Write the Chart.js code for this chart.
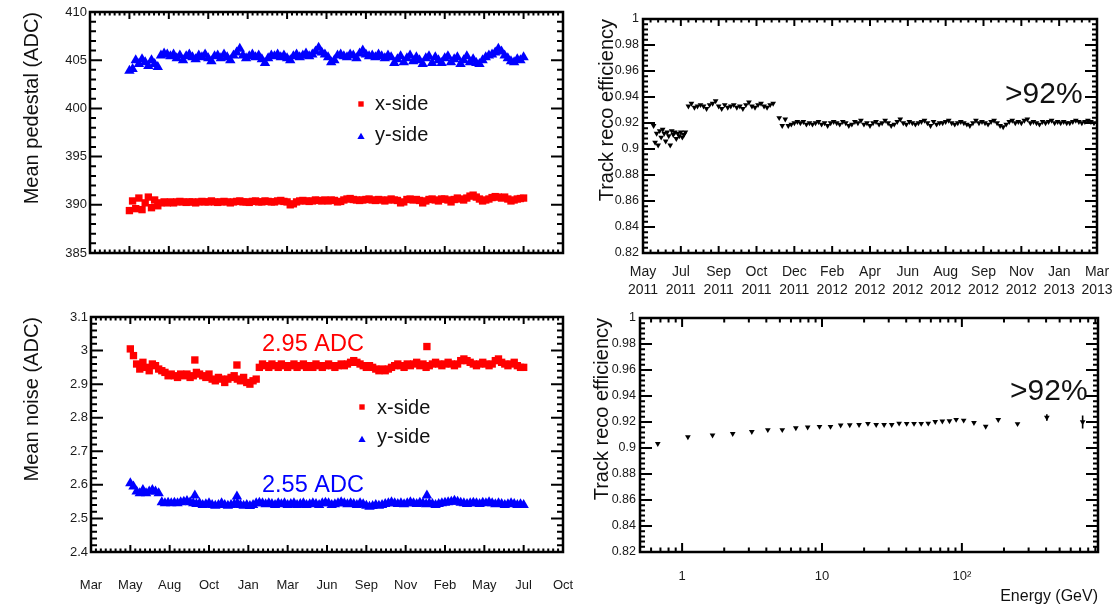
<!DOCTYPE html>
<html><head><meta charset="utf-8">
<script src="https://cdn.jsdelivr.net/npm/chart.js@4.4.1/dist/chart.umd.min.js"></script>
<style>
html,body{margin:0;padding:0;background:#fff;}
#wrap{position:relative;width:1115px;height:609px;overflow:hidden;background:#fff;}
canvas{position:absolute;}
</style></head><body>
<div id="wrap">
<canvas id="cA" width="580" height="300" style="left:0px;top:0px;width:580px;height:300px"></canvas>
<canvas id="cC" width="590" height="309" style="left:0px;top:300px;width:590px;height:309px"></canvas>
<canvas id="cB" width="535" height="305" style="left:580px;top:0px;width:535px;height:305px"></canvas>
<canvas id="cD" width="535" height="304" style="left:580px;top:305px;width:535px;height:304px"></canvas>
</div>
<script>
// ---------------- tick labels ----------------
const monthTickPos = [0,1,2,3,4,5,6,7,8,9,10,11,12];
const monthTickLabels = ['Mar','May','Aug','Oct','Jan','Mar','Jun','Sep','Nov','Feb','May','Jul','Oct'];
const effMonthTickLabels = [['May','2011'],['Jul','2011'],['Sep','2011'],['Oct','2011'],['Dec','2011'],['Feb','2012'],['Apr','2012'],['Jun','2012'],['Aug','2012'],['Sep','2012'],['Nov','2012'],['Jan','2013'],['Mar','2013']];
const pedTickVals = [385,390,395,400,405,410];
const pedTickLabels = ['385','390','395','400','405','410'];
const noiseTickVals = [2.4,2.5,2.6,2.7,2.8,2.9,3.0,3.1];
const noiseTickLabels = ['2.4','2.5','2.6','2.7','2.8','2.9','3','3.1'];
const effTickVals = [0.82,0.84,0.86,0.88,0.90,0.92,0.94,0.96,0.98,1.0];
const effTickLabels = ['0.82','0.84','0.86','0.88','0.9','0.92','0.94','0.96','0.98','1'];
const energyTickVals = [1,10,100];
const energyTickLabels = ['1','10','10\u00B2'];

// ---------------- series: time axis in tick units (one unit per labelled tick) ----------------
const dayStart = 1.0, dayStep = 0.08;   // regular sampling from "May" to "Jul"
const pedestalX = [
389.4,390.4,389.6,390.7,389.5,390.2,390.8,389.7,390.5,389.9,
390.2,390.3,390.2,
390.3,390.2,390.3,390.35,390.3,390.25,390.3,390.3,390.2,390.3,
390.35,390.3,390.3,390.4,390.3,390.25,390.3,390.35,390.3,390.2,
390.3,390.35,390.4,390.3,390.3,390.25,390.35,390.4,390.3,390.3,
390.4,390.35,390.3,390.3,390.4,390.45,390.35,390.3,390.0,390.1,
390.3,390.4,390.45,390.4,390.35,390.4,390.5,390.45,390.4,390.5,
390.4,390.5,390.45,390.3,390.35,390.5,390.6,390.65,390.55,390.5,
390.45,390.5,390.55,390.6,390.5,390.45,390.55,390.5,390.4,390.5,
390.6,390.5,390.45,390.2,390.3,390.55,390.6,390.5,390.55,390.45,
390.2,390.4,390.55,390.6,390.5,390.4,390.6,
390.6,390.5,390.3,390.55,390.7,390.6,390.5,390.7,390.9,391.0,
390.8,390.6,390.4,390.5,390.6,390.75,390.85,390.8,390.7,390.8,
390.6,390.4,390.5,390.6,390.65,390.7];
const pedestalY = [
403.9,404.1,405.0,404.6,405.1,404.8,404.4,405.0,404.6,404.3,
405.5,405.7,405.6,
405.4,405.6,405.2,405.5,405.0,405.4,405.6,405.3,405.1,405.5,
405.3,405.6,405.2,404.9,405.4,405.5,405.2,405.6,405.3,405.0,
405.5,405.8,406.2,405.5,405.2,405.4,405.6,405.3,405.5,405.1,
404.7,405.2,405.5,405.4,405.6,405.3,405.5,405.2,405.0,405.4,
405.6,405.3,405.5,405.7,405.4,405.6,405.9,406.3,405.8,405.6,
405.3,404.8,405.0,405.5,405.6,405.4,405.3,405.6,405.5,405.2,
405.7,406.0,405.6,405.4,405.5,405.3,405.6,405.4,405.2,405.5,
405.3,404.7,405.1,405.4,404.8,405.2,405.5,404.9,405.3,405.0,
404.6,405.2,405.4,404.7,405.3,405.0,404.7,
405.2,405.4,404.8,405.1,405.3,404.6,405.0,405.4,404.8,405.1,
404.7,404.6,405.0,405.3,405.5,405.6,405.8,406.2,405.9,405.5,
405.2,404.9,404.8,405.1,405.0,405.3];
const noiseX = [
3.005,2.985,2.96,2.945,2.965,2.95,2.94,2.96,2.955,2.945,
2.94,2.935,2.925,
2.93,2.925,2.92,2.93,2.925,2.93,2.92,2.925,2.935,2.93,
2.925,2.92,2.93,2.915,2.91,2.92,2.915,2.905,2.915,2.92,
2.925,2.915,2.91,2.92,2.905,2.90,2.91,2.915,
2.95,2.96,2.955,2.95,2.96,2.955,2.95,2.96,2.955,2.95,
2.955,2.96,2.95,2.955,2.96,2.95,2.955,2.95,2.96,2.955,
2.95,2.955,2.96,2.955,2.95,2.955,2.96,2.955,2.96,2.965,
2.97,2.965,2.96,2.955,2.95,2.955,2.95,2.945,2.94,2.945,
2.94,2.945,2.95,2.955,2.96,2.955,2.95,2.96,2.955,2.96,
2.965,2.955,2.96,2.95,2.955,2.96,2.965,2.96,2.955,2.96,
2.965,2.96,2.955,2.96,2.97,2.975,2.97,2.965,2.96,2.955,
2.96,2.965,2.96,2.955,2.96,2.97,2.975,2.965,2.96,2.955,
2.96,2.965,2.955,2.95,2.95];
const noiseY = [
2.605,2.595,2.58,2.575,2.585,2.575,2.58,2.585,2.58,2.575,
2.548,2.545,2.547,
2.545,2.547,2.545,2.548,2.55,2.552,2.548,2.545,2.543,2.545,
2.54,2.542,2.545,2.54,2.538,2.54,2.545,2.54,2.538,2.54,
2.542,2.545,2.54,2.538,2.54,2.537,2.54,2.545,
2.547,2.545,2.542,2.545,2.543,2.54,2.545,2.542,2.545,2.54,
2.543,2.545,2.54,2.543,2.545,2.54,2.542,2.545,2.543,2.54,
2.545,2.547,2.545,2.54,2.542,2.545,2.548,2.545,2.542,2.545,
2.543,2.54,2.545,2.542,2.538,2.535,2.537,2.54,2.538,2.54,
2.543,2.545,2.548,2.545,2.543,2.545,2.542,2.545,2.548,2.545,
2.543,2.547,2.545,2.542,2.545,2.543,2.54,2.543,2.545,2.547,
2.548,2.55,2.553,2.55,2.547,2.545,2.543,2.545,2.547,2.545,
2.543,2.547,2.545,2.548,2.545,2.542,2.545,2.543,2.54,2.542,
2.545,2.543,2.54,2.542,2.54];
const noiseSpikeT = [2.64, 3.71, 8.54];
const noiseSpikeX = [2.972, 2.957, 3.012];
const noiseSpikeY = [2.568, 2.565, 2.568];

// track reconstruction efficiency vs time (three running periods)
const effP1Start = 0.28, effP1Step = 0.04;
const effP1 = [0.918,0.905,0.912,0.903,0.914,0.909,0.915,0.912,0.906,0.913,0.91,0.903,0.914,0.911,0.913,0.908,0.912,0.91,0.913,0.909,0.911,0.913];
const effP2Start = 1.2, effP2Step = 0.08;
const effP2 = [0.933,0.935,0.932,0.933,0.934,0.933,0.931,0.934,0.935,0.937,0.933,0.931,0.934,0.932,0.933,0.934,0.932,0.933,0.931,0.934,0.936,0.933,0.932,0.934,0.935,0.933,0.932,0.934,0.935];
const effP3Start = 3.6, effP3Step = 0.08;
const effP3 = [
0.924,0.918,0.923,0.918,0.919,0.92,0.921,0.92,0.921,0.919,
0.92,0.919,0.92,0.921,0.919,0.92,0.918,0.92,0.921,0.92,
0.919,0.921,0.92,0.918,0.919,0.921,0.92,0.922,0.919,0.92,
0.918,0.92,0.921,0.919,0.92,0.922,0.92,0.918,0.919,0.921,
0.923,0.92,0.919,0.921,0.92,0.919,0.92,0.921,0.922,0.92,
0.918,0.921,0.919,0.92,0.92,0.921,0.922,0.92,0.919,0.92,
0.921,0.92,0.919,0.918,0.92,0.922,0.92,0.921,0.92,0.919,
0.921,0.922,0.92,0.918,0.917,0.919,0.921,0.922,0.92,0.921,
0.92,0.922,0.923,0.92,0.921,0.92,0.919,0.921,0.92,0.921,
0.922,0.92,0.921,0.92,0.921,0.92,0.92,0.921,0.922,0.921,
0.92,0.921,0.922,0.921,0.92];

// track reconstruction efficiency vs energy
const energyGeV = [0.67,1.1,1.65,2.3,3.15,4.1,5.2,6.5,7.9,9.6,11.5,13.6,15.8,18.4,21.3,24.4,27.8,31.5,35.6,40.3,45.5,51.2,57.5,64.5,72.5,81.5,91,103,122,148,182,250,405,730];
const effVsEnergy = [0.9033,0.9085,0.9098,0.911,0.9126,0.914,0.914,0.9155,0.916,0.9165,0.9165,0.9175,0.9178,0.918,0.9188,0.918,0.918,0.918,0.919,0.9188,0.9188,0.9188,0.919,0.9203,0.9206,0.9208,0.9219,0.9213,0.9195,0.9166,0.9218,0.9186,0.9235,0.920];
const effErrVsEnergy = [0,0,0,0,0,0,0,0,0,0,0,0,0,0,0,0,0,0,0,0,0,0,0,0,0,0,0,0,0,0,0,0,0.0025,0.005];

// ---------------- helpers ----------------
const FONT = "'Liberation Sans', Arial, Helvetica, sans-serif";
const RED = '#ff0000', BLUE = '#0000ff';
function series(start, step, vals) { return vals.map((v, i) => ({x: start + i * step, y: v})); }
function pairs(xs, ys) { return xs.map((x, i) => ({x: x, y: ys[i]})); }
function range(a, b, s) { const r = []; for (let v = a; v <= b + 1e-9; v += s) r.push(+v.toFixed(6)); return r; }
function logMinors(lo, hi) { const r = []; for (let d = 0.1; d < hi; d *= 10) for (let k = 2; k <= 9; k++) { const v = k * d; if (v >= lo && v <= hi) r.push(v); } return r; }

function drawMarker(ctx, style, x, y, r) {
  ctx.beginPath();
  if (style === 'rect') { const s = r * Math.SQRT1_2; ctx.rect(x - s, y - s, 2 * s, 2 * s); }
  else { ctx.moveTo(x, y - r); ctx.lineTo(x + r * 0.866, y + r * 0.5); ctx.lineTo(x - r * 0.866, y + r * 0.5); ctx.closePath(); }
  ctx.fill();
}

const rootFrame = {
  id: 'rootFrame',
  afterDatasetsDraw(chart, args, o) {
    const ctx = chart.ctx, a = chart.chartArea;
    const xs = chart.scales.x, ys = chart.scales.y;
    ctx.save();
    // error bars
    (o.errors || []).forEach(E => {
      const ds = chart.data.datasets[E.dataset];
      ctx.strokeStyle = '#000'; ctx.lineWidth = 1.6; ctx.beginPath();
      ds.data.forEach((p, i) => {
        const e = E.err[i]; if (!e) return;
        const px = xs.getPixelForValue(p.x);
        ctx.moveTo(px, ys.getPixelForValue(p.y - e)); ctx.lineTo(px, ys.getPixelForValue(p.y + e));
      });
      ctx.stroke();
    });
    // ticks inside the frame (all four sides)
    ctx.strokeStyle = '#000'; ctx.lineWidth = 2; ctx.beginPath();
    const xt = (v, len) => { const p = xs.getPixelForValue(v); if (p < a.left + 1 || p > a.right - 1) return;
      ctx.moveTo(p, a.bottom); ctx.lineTo(p, a.bottom - len); ctx.moveTo(p, a.top); ctx.lineTo(p, a.top + len); };
    const yt = (v, len) => { const p = ys.getPixelForValue(v); if (p < a.top + 1 || p > a.bottom - 1) return;
      ctx.moveTo(a.left, p); ctx.lineTo(a.left + len, p); ctx.moveTo(a.right, p); ctx.lineTo(a.right - len, p); };
    o.xMinor.forEach(v => xt(v, o.xMin)); o.xMajor.forEach(v => xt(v, o.xMaj));
    o.yMinor.forEach(v => yt(v, o.yMin)); o.yMajor.forEach(v => yt(v, o.yMaj));
    ctx.stroke();
    ctx.lineWidth = 2.5;
    ctx.strokeRect(a.left, a.top, a.right - a.left, a.bottom - a.top);
    // legend
    ctx.textBaseline = 'middle'; ctx.textAlign = 'left';
    (o.legend || []).forEach(L => {
      const ds = chart.data.datasets[L.dataset];
      ctx.fillStyle = ds.pointBackgroundColor;
      drawMarker(ctx, ds.pointStyle, L.mx, L.my, L.r);
      ctx.fillStyle = '#111'; ctx.font = L.size + 'px ' + FONT;
      ctx.fillText(ds.label, L.tx, L.ty);
    });
    (o.texts || []).forEach(T => {
      ctx.fillStyle = T.color; ctx.font = T.size + 'px ' + FONT;
      ctx.textAlign = T.align || 'left';
      ctx.fillText(T.text, T.x, T.y);
    });
    ctx.restore();
  }
};
Chart.register(rootFrame);

function fixed(w, h) {
  return function (s) {
    if (w != null) s.width = w;
    if (h != null) s.height = h;
    s.paddingLeft = s.paddingRight = s.paddingTop = s.paddingBottom = 0;
  };
}

function xScale(o) {
  return {
    type: o.type || 'linear', min: o.min, max: o.max, position: 'bottom',
    afterBuildTicks: s => { s.ticks = o.tickVals.map(v => ({value: v})); },
    afterFit: fixed(null, o.height),
    grid: {display: false, drawTicks: false}, border: {display: false},
    ticks: {display: o.showLabels, autoSkip: false, maxRotation: 0, minRotation: 0, padding: o.pad,
      color: '#1a1a1a', font: {family: FONT, size: o.size, lineHeight: o.lh || 1.2},
      callback: (v, i) => o.labels[i]},
    title: o.title ? {display: true, text: o.title, align: 'end', color: '#111',
      font: {family: FONT, size: 16, lineHeight: 1}, padding: {top: 0, bottom: 4}} : {display: false}
  };
}
function yScale(o) {
  return {
    type: 'linear', min: o.min, max: o.max, position: 'left',
    afterBuildTicks: s => { s.ticks = o.tickVals.map(v => ({value: v})); },
    afterFit: fixed(o.width, null),
    grid: {display: false, drawTicks: false}, border: {display: false},
    ticks: {autoSkip: false, padding: o.pad, color: '#1a1a1a', font: {family: FONT, size: o.size},
      callback: (v, i) => o.labels[i]},
    title: {display: true, text: o.title, align: 'end', color: '#111',
      font: {family: FONT, size: 20, lineHeight: 1}, padding: {top: o.titlePad, bottom: 0}}
  };
}
function baseOptions(padding, scales, frame) {
  return {
    responsive: false, animation: false, devicePixelRatio: 1,
    layout: {padding: padding, autoPadding: false},
    plugins: {legend: {display: false}, tooltip: {enabled: false}, rootFrame: frame},
    scales: scales
  };
}
const ptRed = {pointStyle: 'rect', pointRadius: 5.2, pointBackgroundColor: RED, pointBorderWidth: 0, showLine: false};
const ptBlue = {pointStyle: 'triangle', pointRadius: 6, pointBackgroundColor: BLUE, pointBorderWidth: 0, showLine: false};
const ptBlack = {pointStyle: 'triangle', pointRotation: 180, pointRadius: 3.3, pointBackgroundColor: '#000', pointBorderWidth: 0, showLine: false};

const monthMinors = range(0, 12, 0.125);

// ---------------- Panel A: mean pedestal ----------------
new Chart(document.getElementById('cA'), {
  type: 'scatter',
  data: {datasets: [
    Object.assign({label: 'x-side', data: series(dayStart, dayStep, pedestalX)}, ptRed),
    Object.assign({label: 'y-side', data: series(dayStart, dayStep, pedestalY)}, ptBlue)
  ]},
  options: baseOptions({left: 0, top: 12, right: 17, bottom: 0}, {
    x: xScale({min: 0, max: 12, tickVals: monthTickPos, labels: monthTickLabels, showLabels: false, height: 47, pad: 26, size: 13}),
    y: yScale({min: 385, max: 410, tickVals: pedTickVals, labels: pedTickLabels, width: 90, pad: 3, size: 13, title: 'Mean pedestal (ADC)', titlePad: 22})
  }, {
    xMajor: monthTickPos, xMinor: monthMinors, xMaj: 7, xMin: 3.5,
    yMajor: pedTickVals, yMinor: range(385, 410, 1), yMaj: 12, yMin: 6,
    legend: [
      {dataset: 0, mx: 361, my: 104, r: 3.8, tx: 375, ty: 104, size: 20},
      {dataset: 1, mx: 361, my: 137, r: 4.2, tx: 375, ty: 135, size: 20}
    ]
  })
});

// ---------------- Panel C: mean noise ----------------
new Chart(document.getElementById('cC'), {
  type: 'scatter',
  data: {datasets: [
    Object.assign({label: 'x-side', data: series(dayStart, dayStep, noiseX).concat(pairs(noiseSpikeT, noiseSpikeX))}, ptRed),
    Object.assign({label: 'y-side', data: series(dayStart, dayStep, noiseY).concat(pairs(noiseSpikeT, noiseSpikeY))}, ptBlue)
  ]},
  options: baseOptions({left: 0, top: 17, right: 27, bottom: 0}, {
    x: xScale({min: 0, max: 12, tickVals: monthTickPos, labels: monthTickLabels, showLabels: true, height: 57, pad: 26, size: 13}),
    y: yScale({min: 2.4, max: 3.1, tickVals: noiseTickVals, labels: noiseTickLabels, width: 91, pad: 3, size: 13, title: 'Mean noise (ADC)', titlePad: 22})
  }, {
    xMajor: monthTickPos, xMinor: monthMinors, xMaj: 7, xMin: 3.5,
    yMajor: noiseTickVals, yMinor: range(2.4, 3.1, 0.02), yMaj: 12, yMin: 6,
    legend: [
      {dataset: 0, mx: 362, my: 107, r: 3.8, tx: 377, ty: 108, size: 20},
      {dataset: 1, mx: 362, my: 140, r: 4.2, tx: 377, ty: 137, size: 20}
    ],
    texts: [
      {text: '2.95 ADC', x: 262, y: 45, color: RED, size: 23.5},
      {text: '2.55 ADC', x: 262, y: 186, color: BLUE, size: 23.5}
    ]
  })
});

// ---------------- Panel B: efficiency vs time ----------------
new Chart(document.getElementById('cB'), {
  type: 'scatter',
  data: {datasets: [
    Object.assign({label: 'efficiency', data: series(effP1Start, effP1Step, effP1).concat(series(effP2Start, effP2Step, effP2), series(effP3Start, effP3Step, effP3))}, ptBlack)
  ]},
  options: baseOptions({left: 0, top: 19, right: 18, bottom: 0}, {
    x: xScale({min: 0, max: 12, tickVals: monthTickPos, labels: effMonthTickLabels, showLabels: true, height: 52, pad: 10, size: 14, lh: 1.29}),
    y: yScale({min: 0.82, max: 1.0, tickVals: effTickVals, labels: effTickLabels, width: 63, pad: 4, size: 12.5, title: 'Track reco efficiency', titlePad: 17})
  }, {
    xMajor: monthTickPos, xMinor: range(0, 12, 0.2), xMaj: 7, xMin: 3.5,
    yMajor: effTickVals, yMinor: range(0.82, 1.0, 0.004), yMaj: 12, yMin: 5,
    texts: [{text: '>92%', x: 425, y: 95, color: '#111', size: 30}]
  })
});

// ---------------- Panel D: efficiency vs energy ----------------
new Chart(document.getElementById('cD'), {
  type: 'scatter',
  data: {datasets: [
    Object.assign({label: 'efficiency', data: pairs(energyGeV, effVsEnergy)}, ptBlack)
  ]},
  options: baseOptions({left: 0, top: 13, right: 17, bottom: 0}, {
    x: xScale({type: 'logarithmic', min: 0.5, max: 940, tickVals: energyTickVals, labels: energyTickLabels, showLabels: true, height: 57, pad: 17, size: 13, title: 'Energy (GeV)'}),
    y: yScale({min: 0.82, max: 1.0, tickVals: effTickVals, labels: effTickLabels, width: 60, pad: 4, size: 12.5, title: 'Track reco efficiency', titlePad: 12})
  }, {
    xMajor: energyTickVals, xMinor: logMinors(0.5, 940), xMaj: 9, xMin: 4.5,
    yMajor: effTickVals, yMinor: range(0.82, 1.0, 0.004), yMaj: 12, yMin: 5,
    errors: [{dataset: 0, err: effErrVsEnergy}],
    texts: [{text: '>92%', x: 430, y: 87, color: '#111', size: 30}]
  })
});
</script>
</body></html>
